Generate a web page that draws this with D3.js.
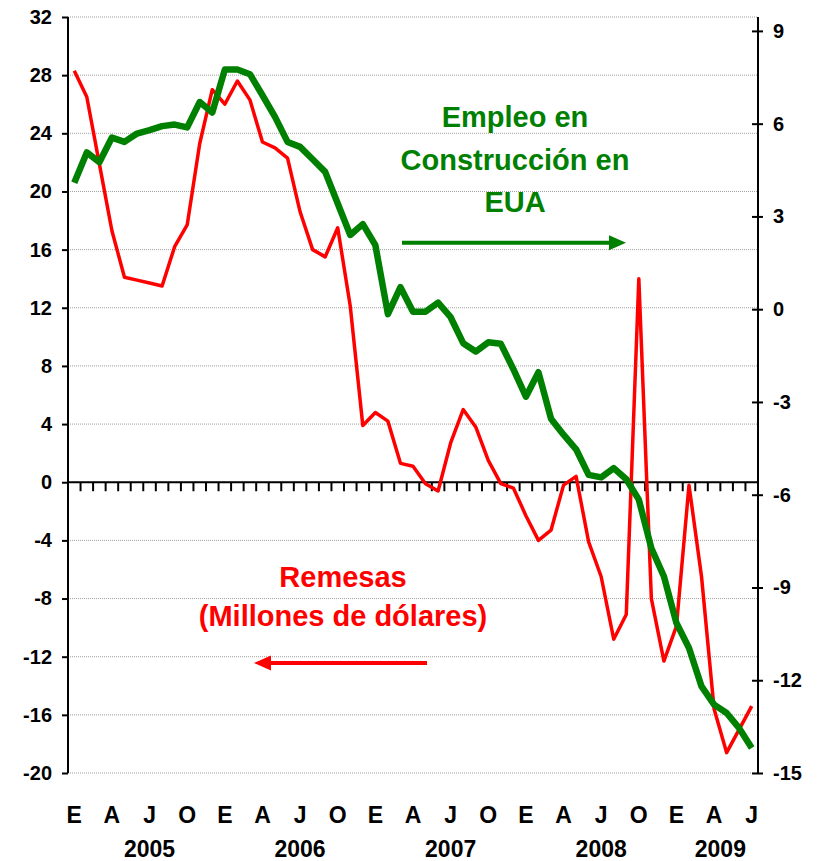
<!DOCTYPE html>
<html>
<head>
<meta charset="utf-8">
<script src="https://cdn.jsdelivr.net/npm/d3@7/dist/d3.min.js"></script>
<style>
  body { margin: 0; background: #fff; }
  svg text { font-family: Arial, 'Liberation Sans', sans-serif; font-weight: bold; }
</style>
</head>
<body>
<div id="graph"></div>
<script>
// years and month initials for the category axis (Jan 2005 - Jul 2009)
var years = ['2005', '2006', '2007', '2008', '2009'];
var monthInitials = ['E', 'F', 'M', 'A', 'M', 'J', 'J', 'A', 'S', 'O', 'N', 'D'];
var monthsLastYear = 7;

// Remesas (millones de dolares), left axis
var remesas = [28.3, 26.5, 21.9, 17.3, 14.1, 13.9, 13.7, 13.5, 16.2, 17.7, 23.3, 27.0,
  26.0, 27.6, 26.3, 23.4, 23.0, 22.3, 18.6, 16.0, 15.5, 17.5, 12.1, 3.9,
  4.8, 4.2, 1.3, 1.1, -0.1, -0.6, 2.7, 5.0, 3.8, 1.5, -0.1, -0.4,
  -2.3, -4.0, -3.3, -0.2, 0.4, -4.1, -6.5, -10.8, -9.1, 14.0, -8.0, -12.3,
  -9.9, -0.2, -6.5, -15.6, -18.6, -17.0, -15.4];

// Empleo en construccion EUA, right axis
var empleo = [4.09, 5.07, 4.75, 5.55, 5.41, 5.68, 5.79, 5.92, 5.97, 5.88, 6.70, 6.36,
  7.75, 7.75, 7.60, 6.92, 6.22, 5.41, 5.25, 4.85, 4.44, 3.42, 2.40, 2.75,
  2.07, -0.16, 0.71, -0.08, -0.08, 0.21, -0.26, -1.10, -1.37, -1.07, -1.12, -1.94,
  -2.83, -2.04, -3.54, -4.06, -4.53, -5.36, -5.44, -5.14, -5.50, -6.16, -7.73, -8.64,
  -10.15, -10.96, -12.20, -12.79, -13.06, -13.55, -14.19];

var leftTicks = d3.range(-20, 33, 4);
var rightTicks = d3.range(-15, 10, 3);

// build the month categories
var categories = [];
years.forEach(function(y, yi) {
  var n = (yi == years.length - 1) ? monthsLastYear : 12;
  for (var m = 0; m < n; m++) {
    categories.push({ key: y + '-' + m, year: y, month: m, label: monthInitials[m] });
  }
});

var canvasWidth = 822;
var canvasHeight = 861;
var plot = { left: 68, right: 758, top: 17, bottom: 773 };

var svg = d3.select('#graph')
  .append('svg')
  .attr('width', canvasWidth)
  .attr('height', canvasHeight);

var x = d3.scaleBand()
  .domain(categories.map(function(d) { return d.key; }))
  .range([plot.left, plot.right])
  .padding(0);
var bw = x.bandwidth();
function xc(i) { return x(categories[i].key) + bw / 2; }

var yL = d3.scaleLinear().domain([-20, 32]).range([plot.bottom, plot.top]);
var yR = d3.scaleLinear().domain([-15, 9]).range([plot.bottom, 30.9]);

// plain hyphen for negatives, like the original
var fmt = function(d) { return String(d); };

// dotted gridlines
svg.append('g')
  .selectAll('line')
  .data(leftTicks)
  .enter()
  .append('line')
  .attr('x1', plot.left)
  .attr('x2', plot.right)
  .attr('y1', function(d) { return yL(d); })
  .attr('y2', function(d) { return yL(d); })
  .attr('stroke', '#a0a0a0')
  .attr('stroke-width', 1)
  .attr('stroke-dasharray', '1,1');

// left axis
var leftAxis = svg.append('g')
  .attr('transform', 'translate(' + plot.left + ',0)')
  .call(d3.axisLeft(yL).tickValues(leftTicks).tickFormat(fmt).tickSize(6).tickPadding(10).tickSizeOuter(0));
leftAxis.select('.domain').attr('stroke', '#000').attr('stroke-width', 2)
  .attr('d', 'M0,' + plot.top + 'V' + plot.bottom);
leftAxis.selectAll('.tick line').attr('stroke', '#000').attr('stroke-width', 2);
leftAxis.selectAll('.tick text').attr('font-size', '20px').attr('fill', '#000')
  .style('font-family', 'Arial, sans-serif').style('font-weight', 'bold');

// right axis (cross ticks)
var rightAxis = svg.append('g')
  .attr('transform', 'translate(' + plot.right + ',0)')
  .call(d3.axisRight(yR).tickValues(rightTicks).tickFormat(fmt).tickSize(5).tickPadding(10).tickSizeOuter(0));
rightAxis.select('.domain').attr('stroke', '#000').attr('stroke-width', 2)
  .attr('d', 'M0,' + plot.top + 'V' + plot.bottom);
rightAxis.selectAll('.tick line').attr('x1', -6).attr('stroke', '#000').attr('stroke-width', 2);
rightAxis.selectAll('.tick text').attr('font-size', '20px').attr('fill', '#000')
  .style('font-family', 'Arial, sans-serif').style('font-weight', 'bold');

// category axis on the zero line with ticks between months
var y0 = yL(0);
svg.append('g')
  .selectAll('line')
  .data(categories.slice(1))
  .enter()
  .append('line')
  .attr('x1', function(d) { return x(d.key); })
  .attr('x2', function(d) { return x(d.key); })
  .attr('y1', y0)
  .attr('y2', y0 + 9)
  .attr('stroke', '#000')
  .attr('stroke-width', 2);
svg.append('line')
  .attr('x1', plot.left)
  .attr('x2', plot.right)
  .attr('y1', y0)
  .attr('y2', y0)
  .attr('stroke', '#000')
  .attr('stroke-width', 2);

// month initials every quarter
svg.append('g')
  .selectAll('text')
  .data(categories.filter(function(d) { return d.month % 3 == 0; }))
  .enter()
  .append('text')
  .attr('x', function(d) { return x(d.key) + bw / 2; })
  .attr('y', 823)
  .attr('text-anchor', 'middle')
  .attr('font-size', '23px')
  .text(function(d) { return d.label; });

// year labels
var start = 0;
years.forEach(function(y, yi) {
  var n = (yi == years.length - 1) ? monthsLastYear : 12;
  svg.append('text')
    .attr('x', x(categories[start].key) + bw * (n / 2 + 0.5))
    .attr('y', 857)
    .attr('text-anchor', 'middle')
    .attr('font-size', '23px')
    .text(y);
  start += n;
});

// series lines
var lineL = d3.line()
  .x(function(d, i) { return xc(i); })
  .y(function(d) { return yL(d); });
var lineR = d3.line()
  .x(function(d, i) { return xc(i); })
  .y(function(d) { return yR(d); });

svg.append('path')
  .datum(remesas)
  .attr('d', lineL)
  .attr('fill', 'none')
  .attr('stroke', '#ff0000')
  .attr('stroke-width', 3.5)
  .attr('stroke-linejoin', 'round');

svg.append('path')
  .datum(empleo)
  .attr('d', lineR)
  .attr('fill', 'none')
  .attr('stroke', '#008000')
  .attr('stroke-width', 6.5)
  .attr('stroke-linejoin', 'round');

// annotations
var greenText = ['Empleo en', 'Construcción en', 'EUA'];
svg.append('g')
  .selectAll('text')
  .data(greenText)
  .enter()
  .append('text')
  .attr('x', 515)
  .attr('y', function(d, i) { return 127 + i * 42.5; })
  .attr('text-anchor', 'middle')
  .attr('font-size', '29px')
  .attr('fill', '#008000')
  .text(function(d) { return d; });

var redText = ['Remesas', '(Millones de dólares)'];
svg.append('g')
  .selectAll('text')
  .data(redText)
  .enter()
  .append('text')
  .attr('x', 343)
  .attr('y', function(d, i) { return 587 + i * 39; })
  .attr('text-anchor', 'middle')
  .attr('font-size', '29px')
  .attr('fill', '#ff0000')
  .text(function(d) { return d; });

// arrows
function arrow(x1, x2, y, color) {
  var dir = x2 > x1 ? 1 : -1;
  svg.append('line')
    .attr('x1', x1).attr('x2', x2 - dir * 14)
    .attr('y1', y).attr('y2', y)
    .attr('stroke', color)
    .attr('stroke-width', 4);
  svg.append('path')
    .attr('d', 'M' + x2 + ',' + y + 'L' + (x2 - dir * 17) + ',' + (y - 7.5) +
      'L' + (x2 - dir * 17) + ',' + (y + 7.5) + 'Z')
    .attr('fill', color);
}
arrow(402, 626, 242.7, '#008000');
arrow(427, 254, 663, '#ff0000');
</script>
</body>
</html>
